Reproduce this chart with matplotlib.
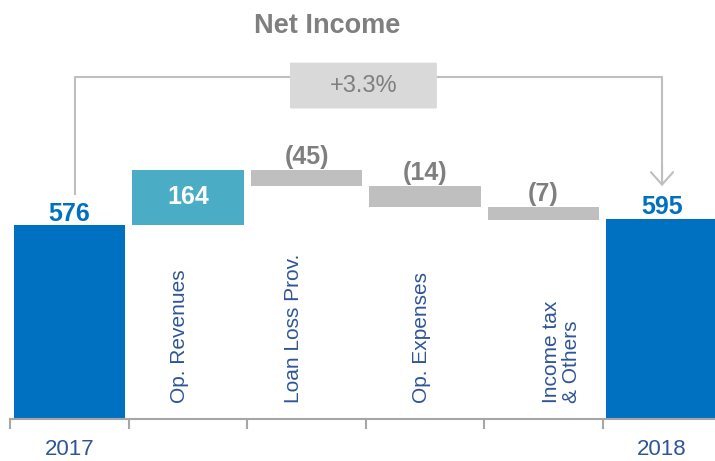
import matplotlib.pyplot as plt
from matplotlib.patches import FancyBboxPatch

# data
categories = ["2017", "Op. Revenues", "Loan Loss Prov.", "Op. Expenses", "Income tax\n& Others", "2018"]
values = [576, 164, -45, -14, -7, 595]
bar_low = [0, 576, 692, 630, 591, 0]
bar_high = [576, 740, 740, 692, 630, 595]
growth = "+3.3%"

blue = "#0070c0"
teal = "#4bacc6"
grey = "#bfbfbf"
text_grey = "#7f7f7f"
navy = "#2f5597"
colors = [blue, teal, grey, grey, grey, blue]

plt.rcParams['font.family'] = ['Liberation Sans', 'DejaVu Sans']

fig = plt.figure(figsize=(7.15, 4.61), dpi=100)
ax = fig.add_axes([0, 0, 1, 1])
ax.set_xlim(-0.587, 5.447)
ax.set_ylim(-124.7, 1244)
ax.axis('off')

x = list(range(len(categories)))
heights = [h - l for h, l in zip(bar_high, bar_low)]
ax.bar(x, heights, bottom=bar_low, width=0.94, color=colors, zorder=2)

# baseline + separators
ax.plot([-0.5, 5.6], [0, 0], color="#a6a6a6", lw=1.5, zorder=3, clip_on=False)
for t in range(6):
    ax.plot([t - 0.5, t - 0.5], [0, -27], color="#a6a6a6", lw=1.5, zorder=3)

# value labels
for i, v in enumerate(values):
    if i in (0, 5):
        ax.annotate(f"{v}", (i, bar_high[i]), xytext=(0, 3), textcoords="offset points",
                    ha="center", va="baseline", fontsize=18, fontweight="bold", color=blue)
    elif v > 0:
        ax.text(i, (bar_low[i] + bar_high[i]) / 2, f"{v}", ha="center", va="center",
                fontsize=18, fontweight="bold", color="white", zorder=4)
    else:
        ax.annotate(f"({-v})", (i, bar_high[i]), xytext=(0, 4), textcoords="offset points",
                    ha="center", va="baseline", fontsize=18, fontweight="bold", color=text_grey)

# category labels
label_shift = [0, -0.07, -0.11, -0.03, 0.15, 0]
for i in range(1, 5):
    ax.text(i + label_shift[i], 47, categories[i], rotation=90, ha="center", va="bottom",
            multialignment="left", fontsize=15, color=navy, linespacing=1.05)
for i in (0, 5):
    ax.text(i, -92, categories[i], ha="center", va="center", fontsize=16, color=navy)

# bracket with growth
ax.plot([0.05, 0.05, 5.0, 5.0], [667, 1015, 1015, 700], color=grey, lw=1.5, zorder=1)
ax.annotate("", xy=(5.0, 683), xytext=(5.0, 760),
            arrowprops=dict(arrowstyle="->,head_length=0.45,head_width=0.4", color=grey,
                            lw=1.5, mutation_scale=20))
box = FancyBboxPatch((1.86, 922), 1.24, 136, boxstyle="round,pad=0,rounding_size=0.02",
                     fc="#d9d9d9", ec="none", zorder=2, mutation_aspect=100)
ax.add_patch(box)
ax.text(2.48, 990, growth, ha="center", va="center", fontsize=17, color=text_grey, zorder=3)

ax.text(2.17, 1167, "Net Income", ha="center", va="center", fontsize=19.5,
        fontweight="bold", color=text_grey)

fig.savefig("out.png", dpi=100)
